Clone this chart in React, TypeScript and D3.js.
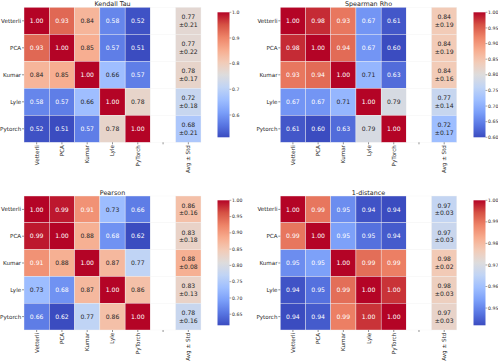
import React from "react";
import * as d3 from "d3";

const rowLabels = ["Vetterli", "PCA", "Kumar", "Lyle", "Pytorch"];
const colLabels = ["Vetterli", "PCA", "Kumar", "Lyle", "PyTorch", "", "Avg ± Std"];

const kendall = [
  [1.0, 0.93, 0.84, 0.58, 0.52],
  [0.93, 1.0, 0.85, 0.57, 0.513],
  [0.84, 0.85, 1.0, 0.66, 0.57],
  [0.58, 0.57, 0.66, 1.0, 0.78],
  [0.52, 0.513, 0.57, 0.78, 1.0],
];
const kendallAvg = [0.77, 0.77, 0.78, 0.72, 0.68];
const kendallStd = [0.21, 0.22, 0.17, 0.18, 0.21];
const kendallTicks = [0.6, 0.7, 0.8, 0.9, 1.0];

const spearman = [
  [1.0, 0.98, 0.93, 0.67, 0.61],
  [0.98, 1.0, 0.94, 0.67, 0.6],
  [0.93, 0.94, 1.0, 0.71, 0.63],
  [0.67, 0.67, 0.71, 1.0, 0.79],
  [0.61, 0.6, 0.63, 0.79, 1.0],
];
const spearmanAvg = [0.84, 0.84, 0.84, 0.77, 0.72];
const spearmanStd = [0.19, 0.19, 0.16, 0.14, 0.17];
const spearmanTicks = [0.6, 0.65, 0.7, 0.75, 0.8, 0.85, 0.9, 0.95, 1.0];

const pearson = [
  [1.0, 0.99, 0.91, 0.73, 0.66],
  [0.99, 1.0, 0.88, 0.68, 0.616],
  [0.91, 0.88, 1.0, 0.87, 0.77],
  [0.73, 0.68, 0.87, 1.0, 0.86],
  [0.66, 0.616, 0.77, 0.86, 1.0],
];
const pearsonAvg = [0.86, 0.83, 0.88, 0.83, 0.78];
const pearsonStd = [0.16, 0.18, 0.08, 0.13, 0.16];
const pearsonTicks = [0.65, 0.7, 0.75, 0.8, 0.85, 0.9, 0.95, 1.0];

const oneDist = [
  [1.0, 0.99, 0.951, 0.943, 0.942],
  [0.99, 1.0, 0.954, 0.947, 0.944],
  [0.951, 0.954, 1.0, 0.991, 0.989],
  [0.943, 0.947, 0.991, 1.0, 0.9965],
  [0.942, 0.944, 0.989, 0.9965, 1.0],
];
const oneDistAvg = [0.966, 0.967, 0.977, 0.9755, 0.974];
const oneDistStd = [0.03, 0.03, 0.02, 0.03, 0.03];
const oneDistTicks = [0.95, 0.96, 0.97, 0.98, 0.99, 1.0];

// matplotlib coolwarm sampled at 0, .1, ... 1
const coolwarm = d3.piecewise(d3.interpolateRgb, [
  "#3b4cc0", "#5977e3", "#7b9ff9", "#9ebeff", "#c0d4f5", "#dddcdc",
  "#f2cbb7", "#f7ac8e", "#ee8468", "#d65244", "#b40426",
]);

const textDark = "#262626";
const font = "DejaVu Sans, sans-serif";

function lum(c: string) {
  const rgb = d3.rgb(c);
  const f = (v: number) => {
    v = v / 255;
    return v <= 0.03928 ? v / 12.92 : Math.pow((v + 0.055) / 1.055, 2.4);
  };
  return 0.2126 * f(rgb.r) + 0.7152 * f(rgb.g) + 0.0722 * f(rgb.b);
}

type PanelProps = {
  id: string;
  title: string;
  matrix: number[][];
  avg: number[];
  std: number[];
  ticks: number[];
  fmt: string;
  gx: number;
  gy: number;
  gw: number;
  gh: number;
  cbx: number;
  cby: number;
  cbh: number;
};

const Panel = ({ id, title, matrix, avg, std, ticks, fmt, gx, gy, gw, gh, cbx, cby, cbh }: PanelProps) => {
  const all = matrix.flat().concat(avg);
  const vmin = d3.min(all)!;
  const vmax = d3.max(all)!;
  const color = d3.scaleSequential(coolwarm).domain([vmin, vmax]);
  const x = d3.scaleBand<number>().domain(d3.range(colLabels.length)).range([gx, gx + gw]);
  const y = d3.scaleBand<number>().domain(d3.range(rowLabels.length)).range([gy, gy + gh]);
  const cb = d3.scaleLinear().domain([vmin, vmax]).range([cby + cbh, cby]);
  const cbw = 12;
  const tf = d3.format(fmt);
  const stops = d3.range(0, 1.0001, 0.05);

  return (
    <g>
      <defs>
        <linearGradient id={id} x1="0" y1="1" x2="0" y2="0">
          {stops.map((t) => (
            <stop key={t} offset={t} stopColor={coolwarm(t)} />
          ))}
        </linearGradient>
      </defs>
      <text x={gx + gw / 2} y={gy - 1.5} textAnchor="middle" fontSize={6.4} fill={textDark}>
        {title}
      </text>
      {matrix.map((row, i) =>
        row.map((v, j) => {
          const c = color(v);
          return (
            <g key={`${i}-${j}`}>
              <rect x={x(j)} y={y(i)} width={x.bandwidth()} height={y.bandwidth()} fill={c} stroke="#f2f2f2" strokeWidth={0.4} />
              <text
                x={x(j)! + x.bandwidth() / 2}
                y={y(i)! + y.bandwidth() / 2}
                dy="0.35em"
                textAnchor="middle"
                fontSize={6.1}
                fill={lum(c) > 0.408 ? textDark : "#ffffff"}
              >
                {v.toFixed(2)}
              </text>
            </g>
          );
        })
      )}
      {avg.map((v, i) => {
        const c = color(v);
        const cx = x(6)! + x.bandwidth() / 2;
        const cy = y(i)! + y.bandwidth() / 2;
        const tc = lum(c) > 0.408 ? textDark : "#ffffff";
        return (
          <g key={`avg-${i}`}>
            <rect x={x(5)} y={y(i)} width={x.bandwidth()} height={y.bandwidth()} fill="#ffffff" stroke="#f2f2f2" strokeWidth={0.4} />
            <rect x={x(6)} y={y(i)} width={x.bandwidth()} height={y.bandwidth()} fill={c} stroke="#f2f2f2" strokeWidth={0.4} />
            <text x={cx} y={cy - 3.8} dy="0.35em" textAnchor="middle" fontSize={6.1} fill={tc}>
              {v.toFixed(2)}
            </text>
            <text x={cx} y={cy + 3.8} dy="0.35em" textAnchor="middle" fontSize={6.1} fill={tc}>
              {"±" + std[i].toFixed(2)}
            </text>
          </g>
        );
      })}
      {rowLabels.map((l, i) => {
        const cy = y(i)! + y.bandwidth() / 2;
        return (
          <g key={`yl-${i}`}>
            <line x1={gx - 2} x2={gx} y1={cy} y2={cy} stroke={textDark} strokeWidth={0.5} />
            <text x={gx - 2.8} y={cy} dy="0.35em" textAnchor="end" fontSize={5.6} fill={textDark}>
              {l}
            </text>
          </g>
        );
      })}
      {colLabels.map((l, j) => {
        const cx = x(j)! + x.bandwidth() / 2;
        const by = gy + gh;
        return (
          <g key={`xl-${j}`}>
            <line x1={cx} x2={cx} y1={by} y2={by + 2} stroke={textDark} strokeWidth={0.5} />
            <text
              transform={`translate(${cx},${by + 2.8}) rotate(-90)`}
              dy="0.35em"
              textAnchor="end"
              fontSize={5.6}
              fill={textDark}
            >
              {l}
            </text>
          </g>
        );
      })}
      <rect x={cbx} y={cby} width={cbw} height={cbh} fill={`url(#${id})`} />
      {ticks.map((t) => (
        <g key={`cb-${t}`}>
          <line x1={cbx + cbw} x2={cbx + cbw + 1.8} y1={cb(t)} y2={cb(t)} stroke={textDark} strokeWidth={0.4} />
          <text x={cbx + cbw + 2.6} y={cb(t)} dy="0.35em" fontSize={4.6} fill={textDark}>
            {tf(t)}
          </text>
        </g>
      ))}
    </g>
  );
};

export default function App() {
  return (
    <svg
      width={498}
      height={362}
      style={{ position: "absolute", left: 0, top: 0, background: "#ffffff" }}
      fontFamily={font}
    >
      <Panel id="cb1" title="Kendall Tau" matrix={kendall} avg={kendallAvg} std={kendallStd} ticks={kendallTicks} fmt=".1f"
        gx={24} gy={7.3} gw={177} gh={135} cbx={217.5} cby={12.3} cbh={125} />
      <Panel id="cb2" title="Spearman Rho" matrix={spearman} avg={spearmanAvg} std={spearmanStd} ticks={spearmanTicks} fmt=".2f"
        gx={280.3} gy={7.3} gw={176.5} gh={135} cbx={473.5} cby={12.3} cbh={125} />
      <Panel id="cb3" title="Pearson" matrix={pearson} avg={pearsonAvg} std={pearsonStd} ticks={pearsonTicks} fmt=".2f"
        gx={24} gy={196} gw={177} gh={134} cbx={217.5} cby={200.3} cbh={125} />
      <Panel id="cb4" title="1-distance" matrix={oneDist} avg={oneDistAvg} std={oneDistStd} ticks={oneDistTicks} fmt=".2f"
        gx={280.3} gy={196} gw={176.5} gh={134} cbx={473.5} cby={200.3} cbh={125} />
    </svg>
  );
}
